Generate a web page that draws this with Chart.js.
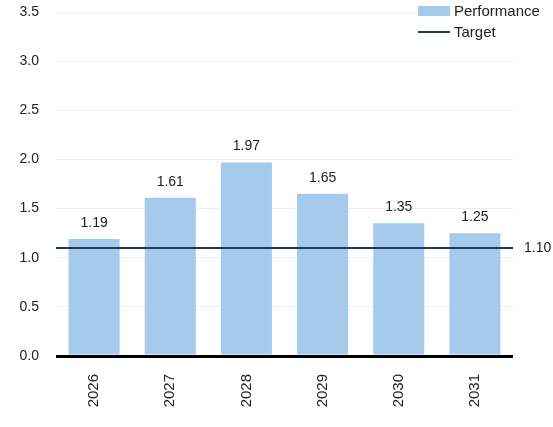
<!DOCTYPE html>
<html>
<head>
<meta charset="utf-8">
<script src="https://cdn.jsdelivr.net/npm/chart.js@4"></script>
<style>
  html, body { margin: 0; padding: 0; background: #fff; }
  #wrap { position: relative; width: 553px; height: 427px; }
  #legend { position: absolute; left: 418px; top: 0px; font: 15px "Liberation Sans", Arial, sans-serif; color: #222; line-height: 21px; }
  .item { display: flex; align-items: center; }
  .swatch { width: 32px; height: 10px; background: #a6caec; margin-right: 4px; }
  .line { width: 32px; height: 2px; background: #1d3c5a; margin-right: 4px; }
</style>
</head>
<body>
<div id="wrap">
  <canvas id="chart" width="553" height="427"></canvas>
  <div id="legend">
    <div class="item"><span class="swatch"></span>Performance</div>
    <div class="item"><span class="line"></span>Target</div>
  </div>
</div>
<script>
const years = ["2026", "2027", "2028", "2029", "2030", "2031"];
const performance = [1.19, 1.61, 1.97, 1.65, 1.35, 1.25];
const targetValue = 1.10;

const barColor = "#a6caec";
const targetColor = "#1d3c5a";
const font = "Liberation Sans, Arial, sans-serif";

// target line across the whole plot + value labels
const annotations = {
  id: "annotations",
  afterDatasetsDraw(chart) {
    const { ctx, chartArea, scales } = chart;
    const y = scales.y.getPixelForValue(targetValue);
    ctx.save();
    ctx.strokeStyle = targetColor;
    ctx.lineWidth = 2;
    ctx.beginPath();
    ctx.moveTo(chartArea.left, y);
    ctx.lineTo(chartArea.right, y);
    ctx.stroke();

    ctx.fillStyle = "#222";
    ctx.font = "14px " + font;
    ctx.textAlign = "left";
    ctx.textBaseline = "middle";
    ctx.fillText(targetValue.toFixed(2), chartArea.right + 11, y);

    ctx.textAlign = "center";
    ctx.textBaseline = "bottom";
    chart.getDatasetMeta(0).data.forEach((bar, i) => {
      ctx.fillText(performance[i].toFixed(2), bar.x, bar.y - 9);
    });
    ctx.restore();
  }
};

new Chart(document.getElementById("chart"), {
  type: "bar",
  data: {
    labels: years,
    datasets: [{
      label: "Performance",
      data: performance,
      backgroundColor: barColor,
      categoryPercentage: 1,
      barPercentage: 0.67
    }]
  },
  options: {
    responsive: false,
    animation: false,
    layout: { padding: { top: 12, right: 40, left: 0, bottom: 0 } },
    plugins: {
      legend: { display: false },
      tooltip: { enabled: false }
    },
    scales: {
      x: {
        grid: { display: false },
        border: { display: false },
        afterFit: (s) => { s.height = 71; },
        ticks: {
          minRotation: 90, maxRotation: 90,
          padding: 10,
          color: "#222",
          font: { size: 15, family: font }
        }
      },
      y: {
        min: 0, max: 3.5,
        afterFit: (s) => { s.width = 56; s.paddingTop = 0; s.paddingBottom = 0; },
        border: { display: false },
        grid: {
          drawTicks: false,
          color: (c) => c.tick.value === 0 ? "#000" : "#eeeeee",
          lineWidth: (c) => c.tick.value === 0 ? 3 : 1
        },
        ticks: {
          stepSize: 0.5,
          padding: 17,
          color: "#222",
          font: { size: 14, family: font },
          callback: (v) => v.toFixed(1)
        }
      }
    }
  },
  plugins: [annotations]
});
</script>
</body>
</html>
